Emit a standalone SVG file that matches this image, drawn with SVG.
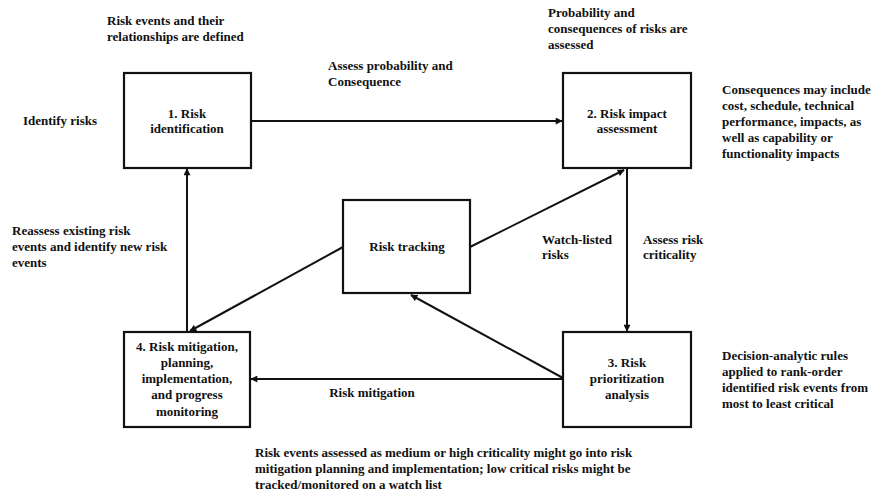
<svg xmlns="http://www.w3.org/2000/svg" width="875" height="493" viewBox="0 0 875 493">
<style>
text{font-family:"Liberation Serif","Times New Roman",serif;font-weight:bold;font-size:13px;fill:#111}
.c{text-anchor:middle}
.box{fill:#fff;stroke:#111;stroke-width:2.2}
.ln{stroke:#111;stroke-width:2;fill:none}
</style>
<defs>
<marker id="ah" viewBox="0 0 10 10" refX="9" refY="5" markerWidth="8" markerHeight="7" markerUnits="userSpaceOnUse" orient="auto"><path d="M0,0 L10,5 L0,10 z" fill="#111"/></marker>
</defs>
<rect width="875" height="493" fill="#fff"/>
<g id="connectors">
<line class="ln" x1="251" y1="121" x2="562" y2="121" marker-end="url(#ah)"/>
<line class="ln" x1="187" y1="332" x2="187" y2="169" marker-end="url(#ah)"/>
<line class="ln" x1="627" y1="168" x2="627" y2="331" marker-end="url(#ah)"/>
<line class="ln" x1="563" y1="379" x2="251" y2="379" marker-end="url(#ah)"/>
<line class="ln" x1="470" y1="247" x2="624" y2="170" marker-end="url(#ah)"/>
<line class="ln" x1="343" y1="247" x2="190" y2="331" marker-end="url(#ah)"/>
<line class="ln" x1="563" y1="378" x2="411" y2="295" marker-end="url(#ah)"/>
</g>
<g id="n1"><rect class="box" x="124" y="73" width="127" height="95"/>
<text class="c" x="187" y="118">1. Risk</text><text class="c" x="187" y="133">identification</text></g>
<g id="n2"><rect class="box" x="563" y="73" width="128" height="95"/>
<text class="c" x="627" y="118">2. Risk impact</text><text class="c" x="627" y="133">assessment</text></g>
<g id="n3"><rect class="box" x="563" y="332" width="128" height="95"/>
<text class="c" x="627" y="367">3. Risk</text><text class="c" x="627" y="383">prioritization</text><text class="c" x="627" y="399">analysis</text></g>
<g id="n4"><rect class="box" x="124" y="332" width="126" height="95"/>
<text class="c" x="187" y="351">4. Risk mitigation,</text><text class="c" x="187" y="367">planning,</text><text class="c" x="187" y="383">implementation,</text><text class="c" x="187" y="399">and progress</text><text class="c" x="187" y="416">monitoring</text></g>
<g id="tracking"><rect class="box" x="343" y="200" width="127" height="93"/>
<text class="c" x="407" y="251">Risk tracking</text></g>
<g id="labels">
<text x="107" y="25">Risk events and their</text><text x="107" y="41">relationships are defined</text>
<text x="328" y="70">Assess probability and</text><text x="328" y="86">Consequence</text>
<text x="23" y="125">Identify risks</text>
<text x="548" y="17">Probability and</text><text x="548" y="33">consequences of risks are</text><text x="548" y="49">assessed</text>
<text x="722" y="94">Consequences may include</text><text x="722" y="110">cost, schedule, technical</text><text x="722" y="126">performance, impacts, as</text><text x="722" y="142">well as capability or</text><text x="722" y="158">functionality impacts</text>
<text x="12" y="235">Reassess existing risk</text><text x="12" y="251">events and identify new risk</text><text x="12" y="267">events</text>
<text x="542" y="244">Watch-listed</text><text x="542" y="259">risks</text>
<text x="643" y="244">Assess risk</text><text x="643" y="259">criticality</text>
<text x="722" y="360">Decision-analytic rules</text><text x="722" y="376">applied to rank-order</text><text x="722" y="392">identified risk events from</text><text x="722" y="408">most to least critical</text>
<text class="c" x="372" y="397">Risk mitigation</text>
<text x="255" y="457">Risk events assessed as medium or high criticality might go into risk</text><text x="255" y="473">mitigation planning and implementation; low critical risks might be</text><text x="255" y="489">tracked/monitored on a watch list</text>
</g>
</svg>
